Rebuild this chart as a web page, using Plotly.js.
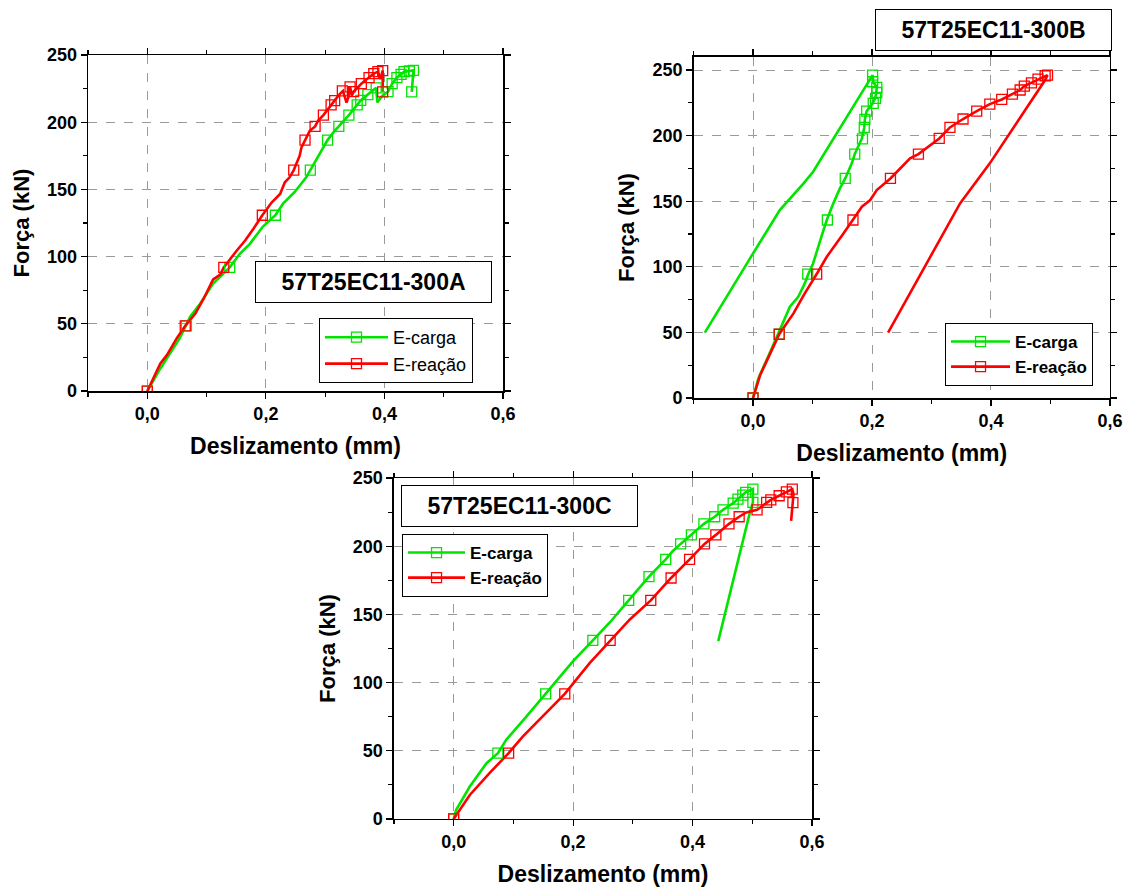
<!DOCTYPE html>
<html>
<head>
<meta charset="utf-8">
<script src="https://cdn.plot.ly/plotly-3.0.1.min.js"></script>
<style>html,body{margin:0;padding:0;background:#fff;}#chart{width:1136px;height:893px;}</style>
</head>
<body>
<div id="chart"></div>
<script>
// ---------- Data ----------
var seriesNames = ['E-carga', 'E-reação'];
var panelTitles = ['57T25EC11-300A', '57T25EC11-300B', '57T25EC11-300C'];
var xTickVals = [0, 0.2, 0.4, 0.6];
var yTickVals = [0, 50, 100, 150, 200, 250];

// Panel A
var A_carga_x = [0, 0.022, 0.055, 0.072, 0.089, 0.111, 0.139, 0.156, 0.173, 0.195, 0.216, 0.229, 0.249, 0.268, 0.275, 0.291, 0.304, 0.316, 0.323, 0.333, 0.340, 0.354, 0.360, 0.372, 0.386, 0.388, 0.395, 0.406, 0.413, 0.421, 0.428, 0.433, 0.442, 0.449, 0.446];
var A_carga_y = [0, 16.8, 39.5, 55.1, 65.0, 79.9, 92.0, 102.1, 109.5, 122.4, 130.8, 139.4, 148.3, 159.0, 164.4, 176.3, 186.7, 193.6, 196.9, 202.3, 205.3, 212.9, 216.2, 220.6, 225.6, 214.7, 219.0, 222.8, 228.7, 233.2, 235.6, 237.6, 238.1, 238.6, 222.6];
var A_carga_mx = [0, 0.066, 0.139, 0.216, 0.275, 0.304, 0.323, 0.340, 0.354, 0.360, 0.372, 0.386, 0.406, 0.413, 0.421, 0.428, 0.433, 0.442, 0.449, 0.446];
var A_carga_my = [0, 48.5, 92.0, 130.8, 164.4, 186.7, 196.9, 205.3, 212.9, 216.2, 220.6, 225.6, 222.8, 228.7, 233.2, 235.6, 237.6, 238.1, 238.6, 222.6];
var A_reacao_x = [0, 0.022, 0.033, 0.050, 0.064, 0.081, 0.095, 0.111, 0.123, 0.129, 0.151, 0.165, 0.179, 0.194, 0.210, 0.224, 0.232, 0.240, 0.247, 0.257, 0.260, 0.266, 0.274, 0.283, 0.288, 0.297, 0.310, 0.316, 0.323, 0.330, 0.336, 0.339, 0.342, 0.345, 0.348, 0.355, 0.361, 0.368, 0.374, 0.382, 0.389, 0.393, 0.397, 0.397];
var A_reacao_y = [0, 20.5, 26.7, 39.5, 48.5, 57.6, 68.7, 83.1, 86.6, 92.0, 104.6, 112.0, 120.7, 130.8, 140.4, 146.6, 155.3, 159.0, 164.4, 175.1, 181.3, 186.7, 193.6, 196.9, 201.0, 205.3, 212.9, 216.1, 220.1, 223.3, 214.6, 218.3, 226.3, 219.6, 222.8, 225.8, 228.7, 231.2, 233.2, 236.2, 237.6, 232.0, 238.4, 222.6];
var A_reacao_mx = [0, 0.064, 0.129, 0.194, 0.247, 0.266, 0.283, 0.297, 0.310, 0.316, 0.329, 0.342, 0.348, 0.361, 0.374, 0.382, 0.389, 0.397, 0.397];
var A_reacao_my = [0, 48.5, 92.0, 130.8, 164.4, 186.7, 196.9, 205.3, 212.9, 216.1, 223.3, 226.3, 222.8, 228.7, 233.2, 236.2, 237.6, 238.4, 222.6];

// Panel B
var B_carga_x = [0, 0.009, 0.029, 0.043, 0.062, 0.076, 0.087, 0.093, 0.101, 0.115, 0.124, 0.135, 0.146, 0.155, 0.166, 0.171, 0.183, 0.187, 0.188, 0.191, 0.201, 0.205, 0.207, 0.208, 0.202, 0.201, 0.194, 0.101, 0.085, 0.045, -0.005, -0.081];
var B_carga_y = [0, 15.0, 35.3, 49.3, 69.6, 77.2, 87.4, 94.5, 102.6, 123.0, 135.7, 148.4, 159.8, 167.4, 178.9, 186.0, 197.9, 206.3, 212.4, 218.7, 224.6, 228.4, 232.2, 236.8, 241.1, 246.2, 241.1, 172.5, 163.6, 143.3, 106.5, 49.8];
var B_carga_mx = [0, 0.044, 0.092, 0.125, 0.155, 0.171, 0.184, 0.187, 0.188, 0.191, 0.202, 0.206, 0.208, 0.208, 0.201, 0.201];
var B_carga_my = [0, 48.6, 94.5, 135.7, 167.4, 186.0, 197.5, 206.3, 212.4, 218.7, 224.6, 228.4, 232.9, 236.8, 241.1, 246.2];
var B_reacao_x = [0, 0.012, 0.029, 0.044, 0.068, 0.087, 0.107, 0.124, 0.152, 0.168, 0.183, 0.197, 0.208, 0.231, 0.264, 0.278, 0.295, 0.313, 0.331, 0.353, 0.376, 0.398, 0.418, 0.436, 0.449, 0.456, 0.468, 0.479, 0.491, 0.495, 0.491, 0.398, 0.348, 0.227];
var B_reacao_y = [0, 17.5, 34.0, 48.6, 64.5, 79.8, 94.5, 107.7, 125.5, 135.7, 145.8, 150.9, 158.5, 167.4, 182.7, 186.0, 191.5, 197.9, 206.3, 212.7, 218.7, 224.1, 227.6, 231.7, 234.8, 237.8, 240.3, 243.1, 245.7, 246.2, 242.4, 178.9, 148.4, 49.8];
var B_reacao_mx = [0, 0.044, 0.107, 0.168, 0.231, 0.278, 0.313, 0.331, 0.353, 0.376, 0.398, 0.418, 0.436, 0.449, 0.456, 0.468, 0.479, 0.491, 0.495];
var B_reacao_my = [0, 48.6, 94.5, 135.7, 167.4, 186.0, 197.9, 206.3, 212.7, 218.7, 224.1, 227.6, 231.7, 234.8, 237.8, 240.3, 243.1, 245.7, 246.2];

// Panel C
var C_carga_x = [0, 0.004, 0.027, 0.055, 0.074, 0.088, 0.122, 0.154, 0.178, 0.200, 0.233, 0.261, 0.293, 0.327, 0.355, 0.367, 0.380, 0.398, 0.419, 0.437, 0.451, 0.468, 0.476, 0.484, 0.489, 0.501, 0.501, 0.496, 0.443];
var C_carga_y = [0, 6.6, 23.8, 40.9, 48.3, 58.1, 75.2, 91.7, 104.6, 115.7, 130.9, 143.9, 160.3, 177.7, 190.4, 196.5, 201.7, 208.3, 216.4, 221.6, 226.7, 231.6, 234.5, 237.5, 239.5, 241.9, 232.1, 224.8, 130.4];
var C_carga_mx = [0, 0.074, 0.154, 0.233, 0.293, 0.327, 0.355, 0.380, 0.398, 0.419, 0.437, 0.451, 0.468, 0.476, 0.484, 0.489, 0.501, 0.501];
var C_carga_my = [0, 48.3, 91.7, 130.9, 160.3, 177.7, 190.4, 201.7, 208.3, 216.4, 221.6, 226.7, 231.6, 234.5, 237.5, 239.5, 241.9, 232.1];
var C_reacao_x = [0, 0.027, 0.060, 0.092, 0.116, 0.144, 0.186, 0.228, 0.262, 0.295, 0.330, 0.364, 0.395, 0.420, 0.439, 0.461, 0.478, 0.490, 0.508, 0.524, 0.531, 0.545, 0.557, 0.567, 0.569, 0.568, 0.565];
var C_reacao_y = [0, 17.6, 33.6, 48.3, 60.5, 72.8, 91.7, 114.5, 130.9, 146.3, 160.3, 176.7, 190.4, 201.7, 208.3, 216.4, 221.6, 224.8, 226.7, 232.1, 234.0, 237.0, 239.9, 241.9, 238.2, 232.0, 218.6];
var C_reacao_mx = [0, 0.092, 0.186, 0.262, 0.330, 0.364, 0.395, 0.420, 0.439, 0.461, 0.478, 0.508, 0.524, 0.531, 0.545, 0.557, 0.567, 0.568];
var C_reacao_my = [0, 48.3, 91.7, 130.9, 160.3, 176.7, 190.4, 201.7, 208.3, 216.4, 221.6, 226.7, 232.1, 234.0, 237.0, 239.9, 241.9, 232.0];

// ---------- Styles ----------
var GREEN = '#00e400';
var RED = '#ff0000';
var FONT = 'Arial, "Liberation Sans", sans-serif';

function lineTrace(x, y, color, xa, ya) {
  return {x: x, y: y, xaxis: xa, yaxis: ya, mode: 'lines', type: 'scatter',
    line: {color: color, width: 2.6}, showlegend: false, hoverinfo: 'skip'};
}
function markTrace(x, y, color, xa, ya) {
  return {x: x, y: y, xaxis: xa, yaxis: ya, mode: 'markers', type: 'scatter',
    marker: {symbol: 'square-open', size: 10, color: color, line: {width: 1.3, color: color}},
    showlegend: false};
}
function legendTrace(name, color, xa, ya, leg) {
  return {x: [null], y: [null], xaxis: xa, yaxis: ya, mode: 'lines+markers', type: 'scatter',
    name: name, legend: leg,
    line: {color: color, width: 2.6},
    marker: {symbol: 'square-open', size: 10, color: color, line: {width: 1.3, color: color}}};
}

var data = [
  lineTrace(A_carga_x, A_carga_y, GREEN, 'x', 'y'),
  lineTrace(A_reacao_x, A_reacao_y, RED, 'x', 'y'),
  markTrace(A_carga_mx, A_carga_my, GREEN, 'x', 'y'),
  markTrace(A_reacao_mx, A_reacao_my, RED, 'x', 'y'),
  legendTrace(seriesNames[0], GREEN, 'x', 'y', 'legend'),
  legendTrace(seriesNames[1], RED, 'x', 'y', 'legend'),

  lineTrace(B_carga_x, B_carga_y, GREEN, 'x2', 'y2'),
  lineTrace(B_reacao_x, B_reacao_y, RED, 'x2', 'y2'),
  markTrace(B_carga_mx, B_carga_my, GREEN, 'x2', 'y2'),
  markTrace(B_reacao_mx, B_reacao_my, RED, 'x2', 'y2'),
  legendTrace(seriesNames[0], GREEN, 'x2', 'y2', 'legend2'),
  legendTrace(seriesNames[1], RED, 'x2', 'y2', 'legend2'),

  lineTrace(C_carga_x, C_carga_y, GREEN, 'x3', 'y3'),
  lineTrace(C_reacao_x, C_reacao_y, RED, 'x3', 'y3'),
  markTrace(C_carga_mx, C_carga_my, GREEN, 'x3', 'y3'),
  markTrace(C_reacao_mx, C_reacao_my, RED, 'x3', 'y3'),
  legendTrace(seriesNames[0], GREEN, 'x3', 'y3', 'legend3'),
  legendTrace(seriesNames[1], RED, 'x3', 'y3', 'legend3')
];

function xAxis(domain, anchor) {
  return {domain: domain, anchor: anchor, range: [-0.1, 0.6], tickvals: xTickVals, tickformat: '.1f',
    showline: true, linecolor: '#000', linewidth: 1.5, mirror: 'ticks',
    ticks: 'outside', ticklen: 6, tickwidth: 1.2, tickcolor: '#000',
    minor: {dtick: 0.1, tick0: 0, ticks: 'outside', ticklen: 4, tickcolor: '#000', showgrid: false},
    showgrid: true, gridcolor: '#9a9a9a', griddash: 'dash', gridwidth: 1, zeroline: false,
    tickfont: {family: FONT, size: 18, color: '#000', weight: 'bold'},
    title: {text: 'Deslizamento (mm)', standoff: 15, font: {family: FONT, size: 23, color: '#000', weight: 'bold'}},
    fixedrange: true};
}
function yAxis(domain, anchor, range) {
  return {domain: domain, anchor: anchor, range: range, tickvals: yTickVals,
    showline: true, linecolor: '#000', linewidth: 1.5, mirror: 'ticks',
    ticks: 'outside', ticklen: 6, tickwidth: 1.2, tickcolor: '#000',
    minor: {dtick: 25, tick0: 0, ticks: 'outside', ticklen: 4, tickcolor: '#000', showgrid: false},
    showgrid: true, gridcolor: '#9a9a9a', griddash: 'dash', gridwidth: 1, zeroline: false,
    tickfont: {family: FONT, size: 18, color: '#000', weight: 'bold'},
    title: {text: 'Força (kN)', standoff: 11, font: {family: FONT, size: 22, color: '#000', weight: 'bold'}},
    fixedrange: true};
}
function titleBox(text, x, y) {
  return {text: '<b>' + text + '</b>', xref: 'paper', yref: 'paper', x: x, y: y,
    xanchor: 'center', yanchor: 'middle', showarrow: false, width: 233, height: 38,
    bordercolor: '#000', borderwidth: 1, borderpad: 1, bgcolor: '#fff',
    font: {family: FONT, size: 23, color: '#000'}};
}
function legendBox(x, y, bold, iw) {
  return {x: x, y: y, xanchor: 'left', yanchor: 'top', bgcolor: '#fff', bordercolor: '#000', borderwidth: 1,
    itemwidth: iw, tracegroupgap: 0,
    font: {family: FONT, size: bold ? 17 : 18, color: '#000', weight: bold ? 'bold' : 'normal'}};
}

var layout = {
  width: 1136, height: 893,
  margin: {l: 0, r: 0, t: 0, b: 0},
  paper_bgcolor: '#fff', plot_bgcolor: '#fff',
  separators: ',.',
  font: {family: FONT, color: '#000'},
  xaxis: xAxis([0.0775, 0.4428], 'y'),
  yaxis: yAxis([0.5621, 0.9384], 'x', [0, 250]),
  xaxis2: xAxis([0.6105, 0.9771], 'y2'),
  yaxis2: yAxis([0.5543, 0.9362], 'x2', [0, 260]),
  xaxis3: xAxis([0.3468, 0.7148], 'y3'),
  yaxis3: yAxis([0.0829, 0.4647], 'x3', [0, 250]),
  legend: legendBox(0.2808, 0.6439, false, 63),
  legend2: legendBox(0.8319, 0.6383, true, 59),
  legend3: legendBox(0.3539, 0.4020, true, 57),
  annotations: [
    titleBox(panelTitles[0], 0.3288, 0.6837),
    titleBox(panelTitles[1], 0.8746, 0.9664),
    titleBox(panelTitles[2], 0.4569, 0.4339)
  ],
  showlegend: true
};

Plotly.newPlot('chart', data, layout, {staticPlot: true, displayModeBar: false});
</script>
</body>
</html>
